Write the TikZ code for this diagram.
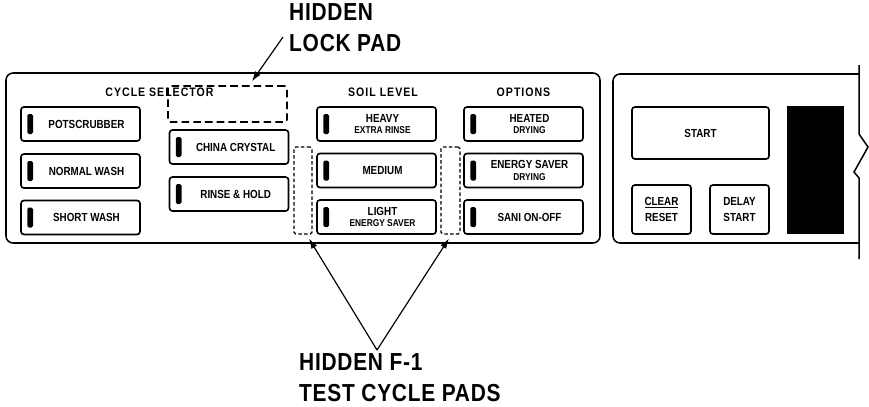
\documentclass[tikz,border=0pt]{standalone}
\usepackage{fontspec}
\usepackage{tikz}
\usetikzlibrary{arrows.meta,positioning}
\newfontfamily\padfont[FakeStretch=0.84]{Liberation Sans}
\newfontfamily\headfont[FakeStretch=0.86,LetterSpace=8]{Liberation Sans}
\newfontfamily\bigfont[FakeStretch=0.85,LetterSpace=3]{Liberation Sans}
\newcommand{\sublabel}[1]{{\fontsize{8.5}{9}\selectfont #1}}
\tikzset{
  panel/.style={draw=black,line width=1.3pt,rounded corners=6pt},
  pad/.style={draw=black,line width=1.4pt,rounded corners=2.5pt,minimum width=3.57cm,minimum height=1.02cm,inner sep=0pt},
  led/.style={fill=black,rounded corners=1.3pt,minimum width=0.17cm,minimum height=0.6cm,inner sep=0pt},
  padtext/.style={font=\padfont\bfseries\fontsize{10}{11}\selectfont,align=center,inner sep=0pt},
  heading/.style={font=\headfont\bfseries\fontsize{10.5}{12}\selectfont,inner sep=0pt},
  hiddenpad/.style={draw=black,dash pattern=on 6.5pt off 3.5pt,line width=1.3pt,rounded corners=2pt,inner sep=0pt},
  testpad/.style={draw=black,dash pattern=on 3pt off 2pt,line width=1.1pt,rounded corners=1.5pt,inner sep=0pt,minimum height=2.61cm},
  callout/.style={font=\bigfont\bfseries\fontsize{21}{26.5}\selectfont,align=left,inner sep=0pt,anchor=north west},
  pointer/.style={-{Latex[length=3mm,width=2mm]},draw=black,line width=1pt}
}

\begin{document}
\begin{tikzpicture}[x=0.03cm,y=-0.03cm]
\useasboundingbox (0,0) rectangle (869,406);
% panels
\draw[panel] (6,73) rectangle (600,243);
\draw[panel] (859,74) -- (613,74) -- (613,243) -- (859,243);
\draw[line width=1.3pt] (859,65) -- (859,134) -- (868,147) -- (854,172) -- (859,178) -- (859,259);
% headings
\node[heading] (hcycle) at (159.5,92.5) {CYCLE SELECTOR};
\node[heading] (hsoil) at (383,92) {SOIL LEVEL};
\node[heading] (hopt) at (523.5,92) {OPTIONS};
% cycle selector
\node[pad] (pot) at (80.5,124) {};
\node[led] at ([xshift=0.3cm]pot.west) {};
\node[padtext] at ([xshift=0.18cm]pot.center) {POTSCRUBBER};
\node[pad] (normal) at (80.5,171) {};
\node[led] at ([xshift=0.3cm]normal.west) {};
\node[padtext] at ([xshift=0.18cm]normal.center) {NORMAL WASH};
\node[pad] (short) at (80.5,217.5) {};
\node[led] at ([xshift=0.3cm]short.west) {};
\node[padtext] at ([xshift=0.18cm]short.center) {SHORT WASH};
\node[hiddenpad,minimum width=3.57cm,minimum height=1.08cm] (lock) at (227.5,104) {};
\node[pad] (china) at (229,147) {};
\node[led] at ([xshift=0.3cm]china.west) {};
\node[padtext] at ([xshift=0.2cm]china.center) {CHINA CRYSTAL};
\node[pad] (rinse) at (229,194) {};
\node[led] at ([xshift=0.3cm]rinse.west) {};
\node[padtext] at ([xshift=0.2cm]rinse.center) {RINSE \& HOLD};
% soil level
\node[testpad,minimum width=0.54cm] (tpl) at (303,190.5) {};
\node[pad] (heavy) at (376.5,124) {};
\node[led] at ([xshift=0.3cm]heavy.west) {};
\node[padtext] at ([xshift=0.18cm]heavy.center) {HEAVY\\[-1pt]\sublabel{EXTRA RINSE}};
\node[pad] (medium) at (376.5,170.5) {};
\node[led] at ([xshift=0.3cm]medium.west) {};
\node[padtext] at ([xshift=0.18cm]medium.center) {MEDIUM};
\node[pad] (light) at (376.5,217) {};
\node[led] at ([xshift=0.3cm]light.west) {};
\node[padtext] at ([xshift=0.18cm]light.center) {LIGHT\\[-1pt]\sublabel{ENERGY SAVER}};
\node[testpad,minimum width=0.57cm] (tpr) at (450.5,190.5) {};
% options
\node[pad] (heated) at (523.5,124) {};
\node[led] at ([xshift=0.3cm]heated.west) {};
\node[padtext] at ([xshift=0.18cm]heated.center) {HEATED\\[-1pt]\sublabel{DRYING}};
\node[pad] (esaver) at (523.5,170.5) {};
\node[led] at ([xshift=0.3cm]esaver.west) {};
\node[padtext] at ([xshift=0.18cm]esaver.center) {ENERGY SAVER\\[-1pt]\sublabel{DRYING}};
\node[pad] (sani) at (523.5,217) {};
\node[led] at ([xshift=0.3cm]sani.west) {};
\node[padtext] at ([xshift=0.18cm]sani.center) {SANI ON-OFF};
% start section
\node[pad,minimum width=4.11cm,minimum height=1.56cm] (start) at (700.5,133) {};
\node[padtext] at (start.center) {START};
\node[pad,minimum width=1.77cm,minimum height=1.47cm] (clear) at (661.5,209.5) {};
\node[padtext,font=\padfont\bfseries\fontsize{10}{13.7}\selectfont] at (clear.center) {\underline{CLEAR}\\RESET};
\node[pad,minimum width=1.77cm,minimum height=1.47cm] (delay) at (739.5,209.5) {};
\node[padtext,font=\padfont\bfseries\fontsize{10}{13.7}\selectfont] at (delay.center) {DELAY\\START};
\node[fill=black,minimum width=1.71cm,minimum height=3.84cm,inner sep=0pt] (display) at (815.5,170) {};
% callouts
\node[callout] (lockcall) at (289,3) {HIDDEN\\LOCK PAD};
\node[callout] (testcall) at (299,353) {HIDDEN F-1\\TEST CYCLE PADS};
\coordinate (lockfrom) at (283,37);
\coordinate (testfrom) at (377,350);
\draw[pointer] (lockfrom) -- ([xshift=0.735cm,yshift=0.12cm]lock.north);
\draw[pointer] (testfrom) -- ([xshift=0.18cm,yshift=-0.12cm]tpl.south);
\draw[pointer] (testfrom) -- ([xshift=-0.05cm,yshift=-0.12cm]tpr.south);
\end{tikzpicture}
\end{document}
